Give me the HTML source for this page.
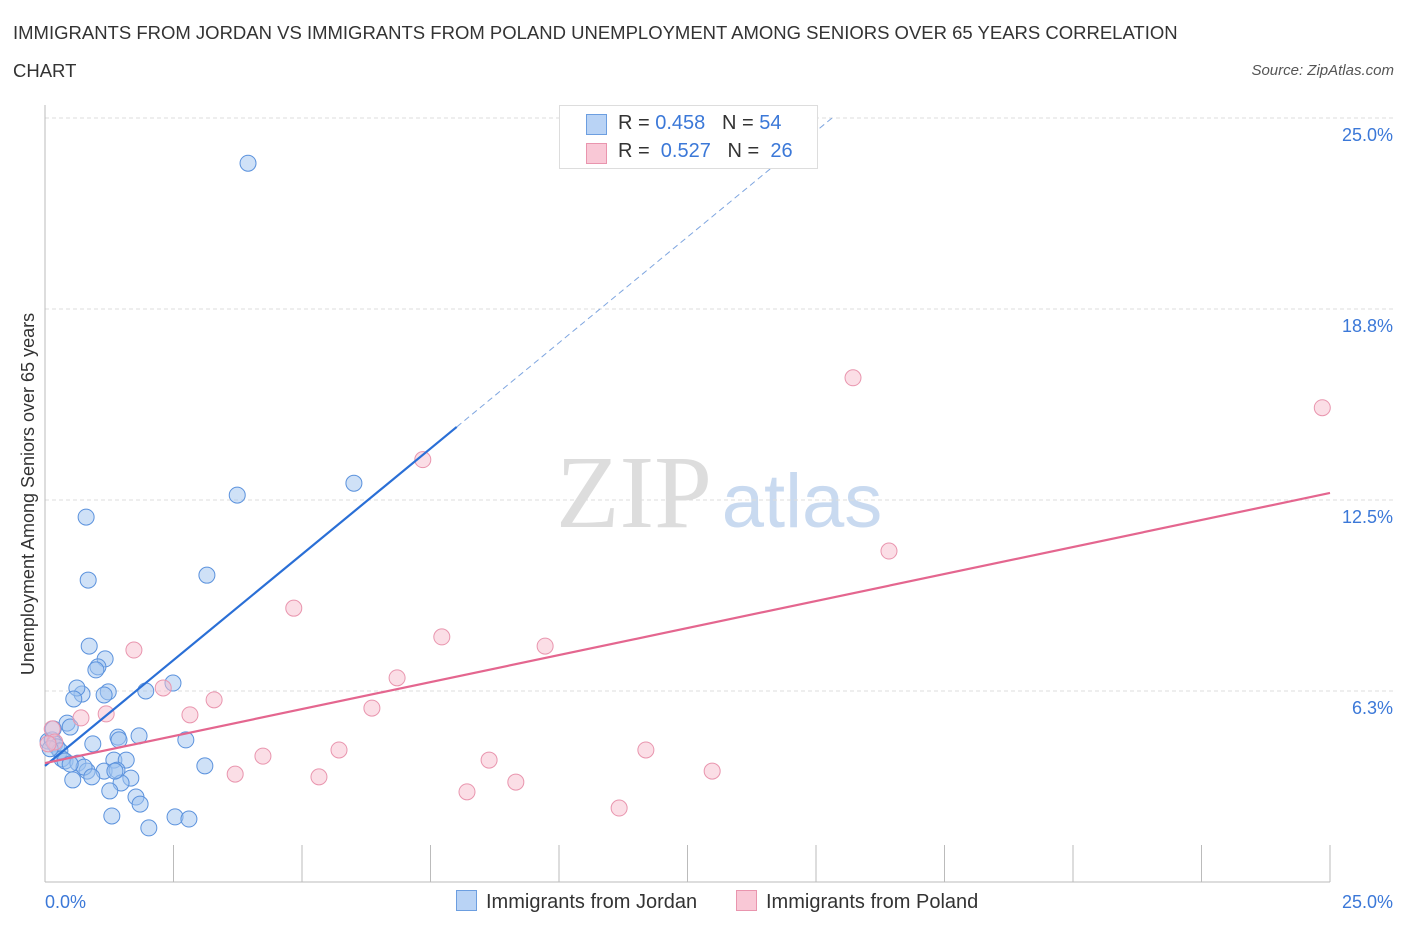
<!DOCTYPE html>
<html><head><meta charset="utf-8">
<style>
body{margin:0;background:#fff;font-family:"Liberation Sans",sans-serif;}
#wrap{position:relative;width:1406px;height:930px;overflow:hidden;}
.t{position:absolute;white-space:nowrap;}
</style></head>
<body>
<div id="wrap">
<div class="t" style="left:13px;top:14px;font-size:18.5px;color:#333;line-height:38px;width:1185px;white-space:normal;">IMMIGRANTS FROM JORDAN VS IMMIGRANTS FROM POLAND UNEMPLOYMENT AMONG SENIORS OVER 65 YEARS CORRELATION CHART</div>
<div class="t" style="right:12px;top:62px;font-size:15px;color:#555;font-style:italic;">Source: ZipAtlas.com</div>
<svg id="svg" width="1406" height="930" style="position:absolute;left:0;top:0"></svg>
</div>
<script>
const xTickVals=[0,25];
const yTickVals=[6.25,12.5,18.75,25];
const yTickLabels=["6.3%","12.5%","18.8%","25.0%"];
const xTickLabels=["0.0%","25.0%"];
const jordanX=[3.95,6.01,3.74,0.80,3.15,0.84,0.86,1.17,1.03,0.99,1.23,1.15,0.72,0.62,0.56,1.96,2.49,0.43,0.49,1.42,1.44,1.83,0.06,0.14,0.19,0.23,0.29,0.33,0.39,0.93,2.74,1.34,1.58,0.64,0.82,1.15,0.76,3.11,1.40,0.91,1.67,0.54,1.48,1.26,1.77,1.85,1.30,2.53,2.80,2.02,0.10,0.49,0.16,1.36];
const jordanY=[23.52,13.05,12.66,11.94,10.04,9.88,7.72,7.30,7.04,6.94,6.22,6.12,6.15,6.35,5.99,6.25,6.51,5.20,5.07,4.74,4.65,4.78,4.61,4.65,4.52,4.42,4.29,4.03,3.96,4.52,4.65,3.99,3.99,3.89,3.63,3.63,3.76,3.80,3.66,3.44,3.40,3.34,3.24,2.98,2.78,2.55,2.16,2.13,2.06,1.77,4.36,3.86,5.01,3.63];
const polandX=[15.72,24.85,7.35,16.42,4.84,7.72,9.73,1.73,6.85,2.30,3.29,2.82,0.70,1.19,6.36,5.72,4.24,3.70,5.33,8.64,9.16,8.21,11.69,12.98,11.17,0.14,0.19,0.06];
const polandY=[16.50,15.52,13.82,10.83,8.96,8.02,7.72,7.59,6.68,6.35,5.96,5.47,5.37,5.50,5.69,4.32,4.12,3.53,3.44,3.99,3.27,2.95,4.32,3.63,2.42,5.01,4.58,4.52];
const jordanFit=[3.80,14.89];const jordanFitX=[0,8.01];
const polandFit=[3.89,12.73];
const X0=45,X1=1330,Y0=882,PX=191/6.25;
const sx=v=>X0+(X1-X0)*v/25, sy=v=>Y0-v*PX;
const svg=document.getElementById('svg');const NS='http://www.w3.org/2000/svg';
function mk(tag,attrs,parent){const e=document.createElementNS(NS,tag);for(const k in attrs)e.setAttribute(k,attrs[k]);(parent||svg).appendChild(e);return e;}
let w1=mk('text',{x:634,y:527,'font-size':104,'font-family':'Liberation Serif,serif',fill:'#ddd','text-anchor':'middle'});w1.textContent='ZIP';


let w2=mk('text',{x:802,y:527,'font-size':76,'font-family':'Liberation Sans,sans-serif',fill:'#c9daf0','text-anchor':'middle'});w2.textContent='atlas';


yTickVals.forEach((v,i)=>{
 const g=mk('line',{x1:X0,x2:1395,y1:sy(v),y2:sy(v),stroke:'#ddd','stroke-dasharray':'4,3'});
 
 
 const t=mk('text',{x:1393,y:sy(v)+23,'font-size':18,fill:'#3b78d8','text-anchor':'end'});t.textContent=yTickLabels[i];
 
 
});
for(let i=0;i<=10;i++){const x=sx(i*2.5);const l=mk('line',{x1:x,x2:x,y1:845,y2:Y0,stroke:'#bbb'});
 
 }
let ax=mk('line',{x1:X0,x2:X1,y1:Y0,y2:Y0,stroke:'#bbb'});
let ay=mk('line',{x1:X0,x2:X0,y1:105,y2:Y0,stroke:'#bbb'});
xTickVals.forEach((v,i)=>{const t=mk('text',{x:i?1393:45,y:908,'font-size':18,fill:'#3b78d8','text-anchor':i?'end':'start'});t.textContent=xTickLabels[i];
 
 });
let yt=mk('text',{x:0,y:0,'font-size':18,fill:'#333','text-anchor':'middle',transform:'translate(34,494) rotate(-90)'});yt.textContent='Unemployment Among Seniors over 65 years';

jordanX.forEach((x,i)=>{const c=mk('circle',{cx:sx(x),cy:sy(jordanY[i]),r:8,fill:'rgba(160,196,240,0.5)',stroke:'#5b92dd','stroke-width':1});
 
 });
polandX.forEach((x,i)=>{const c=mk('circle',{cx:sx(x),cy:sy(polandY[i]),r:8,fill:'rgba(248,190,205,0.5)',stroke:'#e995ae','stroke-width':1});
 
 });
const slope=(jordanFit[1]-jordanFit[0])/(jordanFitX[1]-jordanFitX[0]);
let jl=mk('line',{x1:sx(0),y1:sy(jordanFit[0]),x2:sx(jordanFitX[1]),y2:sy(jordanFit[1]),stroke:'#2a6fd6','stroke-width':2.2});

const xe=(25-jordanFit[0])/slope;
let jd=mk('line',{x1:sx(jordanFitX[1]),y1:sy(jordanFit[1]),x2:sx(xe),y2:sy(25),stroke:'#7fa6e0','stroke-width':1,'stroke-dasharray':'6,4'});

let pl=mk('line',{x1:sx(0),y1:sy(polandFit[0]),x2:sx(25),y2:sy(polandFit[1]),stroke:'#e4668f','stroke-width':2.2});

</script>
<div class="t" style="left:559px;top:105px;width:257px;height:62px;border:1px solid #ddd;background:#fff;font-size:20px;">
 <div style="position:absolute;left:26px;top:8px;width:19px;height:19px;background:#b9d3f5;border:1px solid #6c9ee0"></div>
 <div class="t" style="left:58px;top:6px;color:#333">R = <span style="color:#3b78d8">0.458</span>&nbsp;&nbsp;&nbsp;N = <span style="color:#3b78d8">54</span></div>
 <div style="position:absolute;left:26px;top:37px;width:19px;height:19px;background:#f9c8d6;border:1px solid #e995ae"></div>
 <div class="t" style="left:58px;top:34px;color:#333">R = &nbsp;<span style="color:#3b78d8">0.527</span>&nbsp;&nbsp;&nbsp;N = &nbsp;<span style="color:#3b78d8">26</span></div>
</div>
<div class="t" style="left:456px;top:890px;font-size:20px;color:#333;">
 <span style="display:inline-block;width:19px;height:19px;background:#b9d3f5;border:1px solid #6c9ee0;vertical-align:-3px;margin-right:9px"></span>Immigrants from Jordan</div>
<div class="t" style="left:736px;top:890px;font-size:20px;color:#333;">
 <span style="display:inline-block;width:19px;height:19px;background:#f9c8d6;border:1px solid #e995ae;vertical-align:-3px;margin-right:9px"></span>Immigrants from Poland</div>
</body></html>
